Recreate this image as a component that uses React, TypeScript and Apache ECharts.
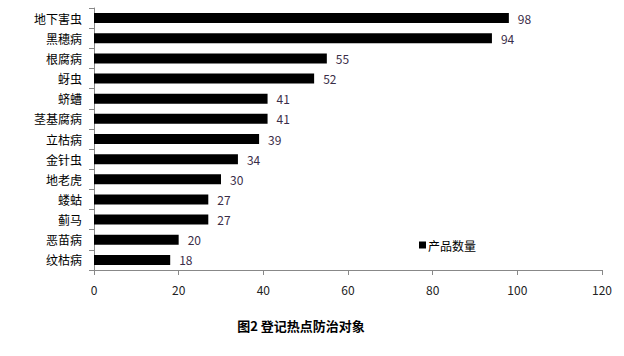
import React, { useEffect, useRef } from "react";
import * as echarts from "echarts";

const categories = ["地下害虫", "黑穗病", "根腐病", "蚜虫", "蛴螬", "茎基腐病", "立枯病", "金针虫", "地老虎", "蝼蛄", "蓟马", "恶苗病", "纹枯病"];
const values = [98, 94, 55, 52, 41, 41, 39, 34, 30, 27, 27, 20, 18];
const seriesName = "产品数量";
const title = "图2 登记热点防治对象";

export default function App() {
  const ref = useRef<HTMLDivElement>(null);
  useEffect(() => {
    const chart = echarts.init(ref.current!, undefined, { renderer: "svg" });
    const font = "'Noto Sans CJK SC', 'Noto Sans', sans-serif";
    chart.setOption({
      animation: false,
      backgroundColor: "#ffffff",
      title: {
        text: title,
        left: 296,
        textAlign: "center",
        top: 314,
        textStyle: { fontFamily: font, fontSize: 13, fontWeight: "bold", color: "#000" },
      },
      legend: {
        data: [seriesName],
        left: 414,
        top: 234,
        icon: "rect",
        itemWidth: 7,
        itemHeight: 7,
        itemGap: 2,
        textStyle: { fontFamily: font, fontSize: 12, color: "#000", padding: [0, 0, 0, -3] },
      },
      grid: { left: 94, right: 22, top: 8, bottom: 86 },
      xAxis: {
        type: "value",
        min: 0,
        max: 120,
        interval: 20,
        splitLine: { show: false },
        axisLine: { show: true, lineStyle: { color: "#888" } },
        axisTick: { show: true, length: 5, lineStyle: { color: "#888" } },
        axisLabel: { fontFamily: font, fontSize: 12, color: "#222", margin: 13 },
      },
      yAxis: {
        type: "category",
        inverse: true,
        data: categories,
        axisLine: { show: true, lineStyle: { color: "#888" } },
        axisTick: { show: true, length: 5, lineStyle: { color: "#888" } },
        axisLabel: { fontFamily: font, fontSize: 12, color: "#000", margin: 12 },
      },
      series: [
        {
          name: seriesName,
          type: "bar",
          data: values,
          barWidth: 10,
          itemStyle: { color: "#000" },
          label: {
            show: true,
            position: "right",
            distance: 9,
            fontFamily: font,
            fontSize: 12,
            color: "#3a2d48",
          },
        },
      ],
    });
    return () => chart.dispose();
  }, []);
  return <div ref={ref} style={{ width: 624, height: 356, position: "absolute", left: 0, top: 0 }} />;
}
